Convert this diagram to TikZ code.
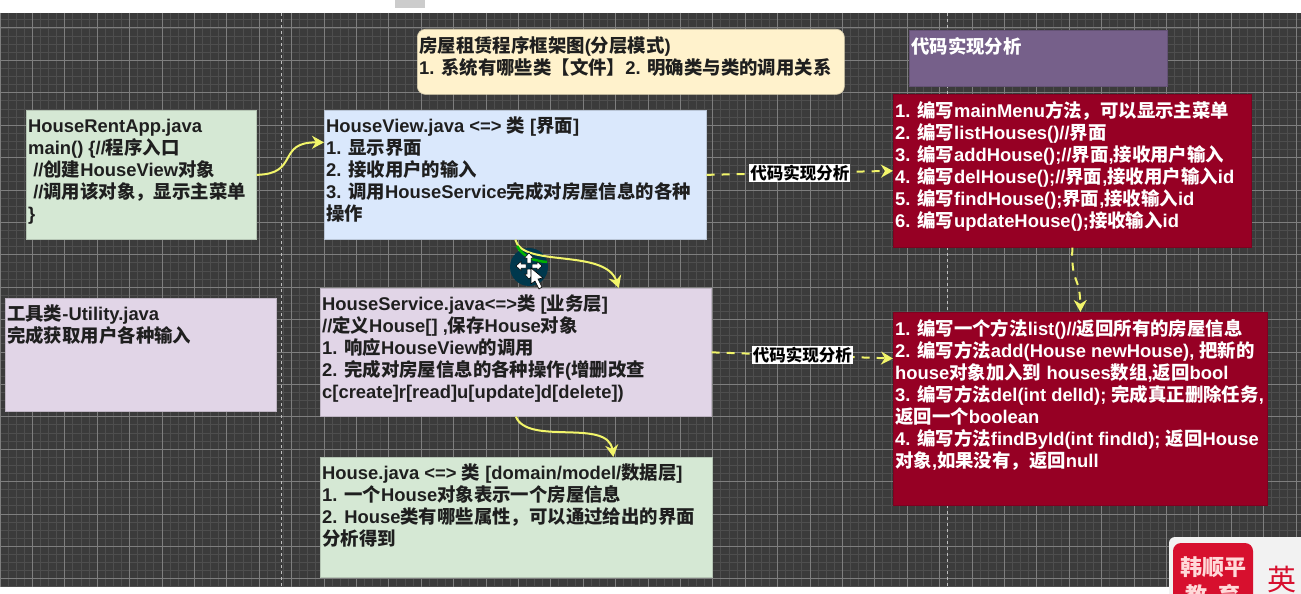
\documentclass[tikz,border=0pt]{standalone}
\usepackage{fontspec}
\setmainfont{Liberation Sans}
\newfontfamily\cjk{Noto Sans CJK SC}
\usepackage{xcolor}
\usetikzlibrary{arrows.meta,positioning,calc}
\definecolor{gridbg}{HTML}{3B3B3B}
\definecolor{gridmin}{HTML}{4E4E4E}
\definecolor{gridmaj}{HTML}{7E7E7E}
\definecolor{appgreen}{HTML}{D5E8D4}
\definecolor{viewblue}{HTML}{DAE8FC}
\definecolor{servlilac}{HTML}{E1D5E7}
\definecolor{titlecream}{HTML}{FFF2CC}
\definecolor{codepurple}{HTML}{76608A}
\definecolor{codered}{HTML}{960024}
\definecolor{linkyellow}{HTML}{F2F56A}
\definecolor{logored}{HTML}{D7102E}
\newcommand{\cn}[1]{{\cjk #1}}
\tikzset{
  panel/.style={draw=#1!85!black, line width=.7pt, inner sep=0pt, anchor=north west},
  paneltxt/.style={anchor=north west, inner xsep=2pt, inner ysep=7pt, align=left, text=black!88, font=\bfseries\fontsize{18.4}{22}\selectfont},
  codetxt/.style={paneltxt, text=white},
  link/.style={draw=linkyellow, line width=2pt, -{Stealth[length=12pt,width=13pt]}},
  dashlink/.style={link, dash pattern=on 8pt off 7pt},
  tag/.style={fill=white, text=black, inner sep=1pt, font=\bfseries\fontsize{16.5}{18}\selectfont}
}
\begin{document}
\begin{tikzpicture}[x=1pt,y=-1pt]
\useasboundingbox (0,0) rectangle (1301,594);
\clip (0,0) rectangle (1301,594);
% screen background
\fill[white] (0,0) rectangle (1301,594);
\fill[black!20] (395,0) rectangle (425,8);
\fill[gridbg] (0,13) rectangle (1301,587);
\foreach \x in {0,8.1,...,1301} {\draw[gridmin, line width=.9pt] (\x,13) -- (\x,587);}
\foreach \y in {19.9,28,...,587} {\draw[gridmin, line width=.9pt] (0,\y) -- (1301,\y);}
\foreach \x in {0,32.4,...,1301} {\draw[gridmaj, line width=1pt] (\x,13) -- (\x,587);}
\foreach \y in {28,60.4,...,587} {\draw[gridmaj, line width=1pt] (0,\y) -- (1301,\y);}
\foreach \x in {281,947} {\draw[white!75!black, dash pattern=on 3pt off 3pt, line width=1pt] (\x,13) -- (\x,587);}
% boxes
\node[panel=appgreen, fill=appgreen, minimum width=230pt, minimum height=129pt] (app) at (26,110) {};
\node[paneltxt, inner ysep=9pt] (apptxt) at (app.north west) {HouseRentApp.java\\main() \{//\cn{程序入口}\\\ //\cn{创建}HouseView\cn{对象}\\\ //\cn{调用该对象，显示主菜单}\\\}};
\node[panel=viewblue, fill=viewblue, minimum width=382pt, minimum height=129pt] (view) at (324,110) {};
\node[paneltxt] (viewtxt) at (view.north west) {HouseView.java <=> \cn{类} [\cn{界面}]\\1. \cn{显示界面}\\2. \cn{接收用户的输入}\\3. \cn{调用}HouseService\cn{完成对房屋信息的各种}\\\cn{操作}};
\node[panel=titlecream, fill=titlecream, rounded corners=8pt, minimum width=427pt, minimum height=65pt] (title) at (417,29) {};
\node[paneltxt] (titletxt) at (title.north west) {\cn{房屋租赁程序框架图}(\cn{分层模式})\\1. \cn{系统有哪些类【文件】}2. \cn{明确类与类的调用关系}};
\node[panel=codepurple, fill=codepurple, minimum width=258pt, minimum height=56pt] (purple) at (909,30) {};
\node[codetxt] (purpletxt) at (purple.north west) {\cn{代码实现分析}};
\node[panel=codered, fill=codered, minimum width=358pt, minimum height=153pt] (viewcode) at (893,94) {};
\node[codetxt] (viewcodetxt) at (viewcode.north west) {1. \cn{编写}mainMenu\cn{方法，可以显示主菜单}\\2. \cn{编写}listHouses()//\cn{界面}\\3. \cn{编写}addHouse();//\cn{界面},\cn{接收用户输入}\\4. \cn{编写}delHouse();//\cn{界面},\cn{接收用户输入}id\\5. \cn{编写}findHouse();\cn{界面},\cn{接收输入}id\\6. \cn{编写}updateHouse();\cn{接收输入}id};
\node[panel=servlilac, fill=servlilac, minimum width=271pt, minimum height=113pt] (tool) at (5,298) {};
\node[paneltxt] (tooltxt) at (tool.north west) {\cn{工具类}-Utility.java\\\cn{完成获取用户各种输入}};
\node[panel=servlilac, fill=servlilac, minimum width=391pt, minimum height=128pt] (service) at (320,288) {};
\node[paneltxt] (servicetxt) at (service.north west) {HouseService.java<=>\cn{类} [\cn{业务层}]\\//\cn{定义}House[] ,\cn{保存}House\cn{对象}\\1. \cn{响应}HouseView\cn{的调用}\\2. \cn{完成对房屋信息的各种操作}(\cn{增删改查}\\c[create]r[read]u[update]d[delete])};
\node[panel=appgreen, fill=appgreen, minimum width=392pt, minimum height=120pt] (house) at (320,457) {};
\node[paneltxt] (housetxt) at (house.north west) {House.java <=> \cn{类} [domain/model/\cn{数据层}]\\1. \cn{一个}House\cn{对象表示一个房屋信息}\\2. House\cn{类有哪些属性，可以通过给出的界面}\\\cn{分析得到}};
\node[panel=codered, fill=codered, minimum width=374pt, minimum height=193pt] (servcode) at (893,312) {};
\node[codetxt] (servcodetxt) at (servcode.north west) {1. \cn{编写一个方法}list()//\cn{返回所有的房屋信息}\\2. \cn{编写方法}add(House newHouse), \cn{把新的}\\house\cn{对象加入到} houses\cn{数组},\cn{返回}bool\\3. \cn{编写方法}del(int delId); \cn{完成真正删除任务},\\\cn{返回一个}boolean\\4. \cn{编写方法}findById(int findId); \cn{返回}House\\\cn{对象},\cn{如果没有，返回}null};
% connectors
\fill[black!55!blue!45!cyan!40!black] (529,267) circle (19);
\draw[link] (app.east) .. controls (300,174) and (276,142) .. ($(view.north west)!.25!(view.south west)$);
\draw[link] (view.south) .. controls (522,268) and (605,248) .. ($(service.north)+(103,0)$);
\draw[green!70!black, line width=2.5pt] (517,246) .. controls (524,258) and (535,261) .. (547,262);
\draw[link] (service.south) .. controls (528,446) and (608,418) .. ($(house.north)+(97,0)$);
\draw[dashlink] (view.east) -- node[tag] (viewtag) {\cn{代码实现分析}} (viewcode.west);
\draw[dashlink] (service.east) -- node[tag] (servtag) {\cn{代码实现分析}} ($(servcode.north west)!.24!(servcode.south west)$);
\draw[dashlink] (viewcode.south) .. controls (1071,285) and (1080,275) .. (servcode.north);
% mouse pointer
\foreach \a in {0,90,180,270} {\fill[white, draw=black, line width=.5pt, shift={(529,266)}, rotate=\a] (3,-2) -- (8,-2) -- (8,-4.5) -- (13,0) -- (8,4.5) -- (8,2) -- (3,2) -- cycle;}
\fill[white, draw=black, line width=.6pt] (531,268) -- (531,284) -- (535,281) -- (539,289) -- (542,287) -- (538,279) -- (543,278) -- cycle;
% logo corner
\fill[black!5, rounded corners=6pt] (1169,537) rectangle (1320,620);
\fill[logored, rounded corners=8pt] (1173,543) rectangle (1253,620);
\node[text=white!85!red, inner sep=0pt, font=\bfseries\fontsize{22}{28}\selectfont, align=center] (logotxt) at (1213,581) {\cn{韩顺平}\\\cn{教\ \ 育}};
\node[text=logored, inner sep=0pt, font=\fontsize{29}{30}\selectfont] (logoying) at (1282,580) {\cn{英}};
\fill[white] (0,587) rectangle (1169,594);
\end{tikzpicture}
\end{document}
